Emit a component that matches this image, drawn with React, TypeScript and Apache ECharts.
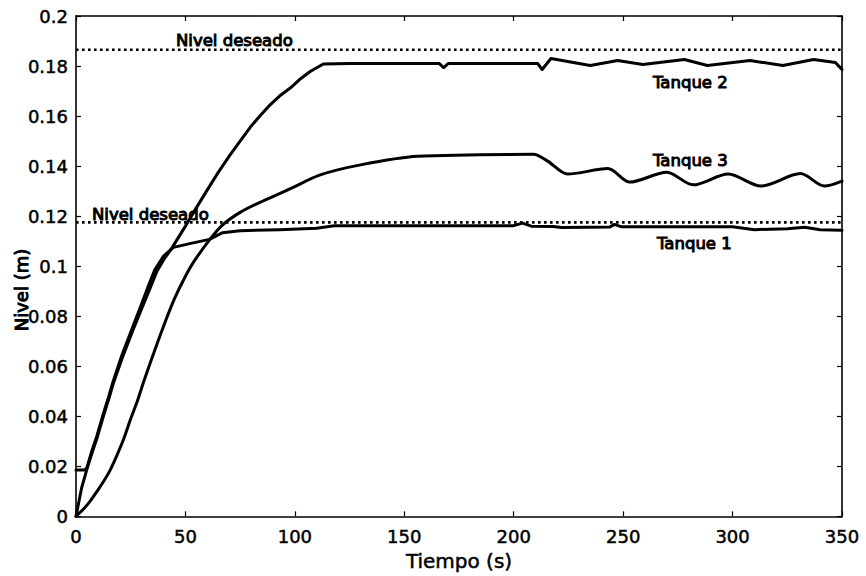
import React, { useEffect, useRef } from "react";
import * as echarts from "echarts";

const FONT = "DejaVu Sans";

const xTicks = [0, 50, 100, 150, 200, 250, 300, 350];
const yTicks = [0, 0.02, 0.04, 0.06, 0.08, 0.1, 0.12, 0.14, 0.16, 0.18, 0.2];

const desiredHigh = 0.1865;
const desiredLow = 0.1175;

const tank1T = [0, 4, 5, 7, 9.5, 12.5, 15, 17, 21, 25.6, 30, 33, 36, 40, 44.5, 52, 61, 67, 75, 93, 110, 118, 160, 200, 204, 208, 218, 222, 244, 246, 249, 300, 310, 325, 333, 340, 350];
const tank1V = [0.0185, 0.0185, 0.0195, 0.0255, 0.032, 0.041, 0.048, 0.054, 0.0645, 0.075, 0.085, 0.092, 0.0985, 0.104, 0.1075, 0.109, 0.1107, 0.1134, 0.1142, 0.1146, 0.1152, 0.1162, 0.1162, 0.1162, 0.1172, 0.116, 0.1159, 0.1155, 0.1157, 0.1167, 0.1158, 0.1158, 0.1146, 0.115, 0.1156, 0.1146, 0.1144];

const tank2T = [0, 2.6, 4.9, 7, 9.5, 12.5, 15, 17, 21, 25.6, 30, 34, 37, 40, 44, 50, 54.4, 60, 65, 70.4, 75, 79.6, 84, 88.7, 93, 97.9, 102, 107, 113, 125, 160, 166, 168, 170, 211, 213, 217, 235, 247.5, 259, 278, 288.5, 308, 323, 337, 347, 350];
const tank2V = [0, 0.0115, 0.0186, 0.0245, 0.031, 0.04, 0.047, 0.053, 0.063, 0.0735, 0.083, 0.0915, 0.098, 0.1025, 0.1075, 0.116, 0.1225, 0.1305, 0.1375, 0.1445, 0.15, 0.1555, 0.16, 0.1645, 0.168, 0.1712, 0.1745, 0.1778, 0.1808, 0.181, 0.181, 0.181, 0.1794, 0.181, 0.181, 0.1786, 0.183, 0.1802, 0.1822, 0.1806, 0.1826, 0.1802, 0.1822, 0.1802, 0.1826, 0.1814, 0.1786];

const tank3T = [0, 3, 6.4, 10, 13, 15.6, 18.5, 21.6, 25, 28, 31, 35, 40, 45, 50, 54, 61, 67, 75, 84, 93, 98, 111.6, 130, 156, 209, 215.5, 224.6, 243, 253, 270, 282, 298, 313, 331, 342, 350];
const tank3V = [0, 0.0025, 0.006, 0.0105, 0.0145, 0.0185, 0.024, 0.0305, 0.039, 0.046, 0.054, 0.064, 0.076, 0.087, 0.096, 0.102, 0.1105, 0.1165, 0.1215, 0.1255, 0.129, 0.131, 0.1365, 0.1405, 0.1439, 0.1447, 0.142, 0.1368, 0.139, 0.1336, 0.1375, 0.1325, 0.1368, 0.132, 0.137, 0.132, 0.134];

const labelTexts = ["Nivel deseado", "Nivel deseado", "Tanque 2", "Tanque 3", "Tanque 1"];

const zip = (t: number[], v: number[]) => t.map((x, i) => [x, v[i]]);

export default function App() {
  const ref = useRef<HTMLDivElement>(null);
  useEffect(() => {
    if (!ref.current) return;
    const chart = echarts.init(ref.current, null, { renderer: "svg" });
    const xMin = xTicks[0];
    const xMax = xTicks[xTicks.length - 1];
    const yMin = yTicks[0];
    const yMax = yTicks[yTicks.length - 1];
    const heavy = { textBorderColor: "#000", textBorderWidth: 0.5 };
    const axisLine = { show: true, onZero: false, lineStyle: { color: "#000", width: 1.6 } };
    const tick = { show: true, inside: true, length: 5, lineStyle: { color: "#000", width: 1.2 } };
    const curve = (name: string, t: number[], v: number[], smooth: number) => ({
      name,
      type: "line",
      data: zip(t, v),
      showSymbol: false,
      symbol: "none",
      smooth,
      lineStyle: { color: "#000", width: 3, join: "round", cap: "round" },
      xAxisIndex: 0,
      yAxisIndex: 0,
    });
    const dotted = (name: string, y: number) => ({
      name,
      type: "line",
      data: [[xMin, y], [xMax, y]],
      symbol: "none",
      lineStyle: { color: "#000", width: 2.6, type: [2.6, 3.4] },
    });
    const txt = (text: string, x: number, y: number) => ({
      type: "text",
      x,
      y,
      style: { text, fontFamily: FONT, fontSize: 16.5, fill: "#000", stroke: "#000", lineWidth: 1, verticalAlign: "middle", align: "left" },
    });
    chart.setOption({
      animation: false,
      backgroundColor: "#fff",
      grid: { left: 76, right: 24, top: 16, bottom: 54, show: false },
      xAxis: [
        {
          type: "value",
          min: xMin,
          max: xMax,
          interval: 50,
          position: "bottom",
          name: "Tiempo (s)",
          nameLocation: "middle",
          nameGap: 31,
          nameTextStyle: { fontFamily: FONT, fontSize: 20, color: "#000", ...heavy },
          axisLine,
          axisTick: tick,
          splitLine: { show: false },
          axisLabel: { fontFamily: FONT, fontSize: 18, color: "#000", margin: 11, ...heavy },
        },
        {
          type: "value",
          min: xMin,
          max: xMax,
          interval: 50,
          position: "top",
          axisLine,
          axisTick: tick,
          splitLine: { show: false },
          axisLabel: { show: false },
        },
      ],
      yAxis: [
        {
          type: "value",
          min: yMin,
          max: yMax,
          interval: 0.02,
          position: "left",
          axisLine,
          axisTick: tick,
          splitLine: { show: false },
          axisLabel: {
            fontFamily: FONT,
            fontSize: 18,
            color: "#000",
            margin: 8,
            ...heavy,
            formatter: (v: number) => String(parseFloat(v.toFixed(2))),
          },
        },
        {
          type: "value",
          min: yMin,
          max: yMax,
          interval: 0.02,
          position: "right",
          axisLine,
          axisTick: tick,
          splitLine: { show: false },
          axisLabel: { show: false },
        },
      ],
      series: [
        dotted("Nivel deseado 2", desiredHigh),
        dotted("Nivel deseado 1", desiredLow),
        curve("Tanque 1", tank1T, tank1V, 0),
        curve("Tanque 2", tank2T, tank2V, 0),
        curve("Tanque 3", tank3T, tank3V, 0.3),
      ],
      graphic: [
        txt(labelTexts[0], 176, 40),
        txt(labelTexts[1], 92, 214),
        txt(labelTexts[2], 653, 82),
        txt(labelTexts[3], 653, 160),
        txt(labelTexts[4], 657, 243),
        {
          type: "text",
          x: 12,
          y: 290,
          rotation: Math.PI / 2,
          style: { text: "Nivel (m)", fontFamily: FONT, fontSize: 18, fill: "#000", stroke: "#000", lineWidth: 1, align: "center", verticalAlign: "top" },
        },
      ],
    });
    return () => chart.dispose();
  }, []);
  return <div ref={ref} style={{ position: "fixed", left: 0, top: 0, width: 866, height: 576 }} />;
}
